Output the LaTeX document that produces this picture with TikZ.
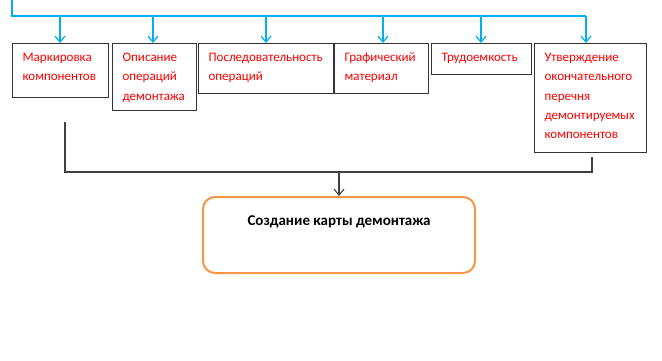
\documentclass[tikz,border=0pt]{standalone}
\usepackage{fontspec}
\setmainfont{Carlito}
\usetikzlibrary{arrows.meta}
\definecolor{mBlue}{HTML}{00B0F0}
\definecolor{mOrange}{HTML}{F79646}
\definecolor{mRed}{HTML}{FF0000}
\begin{document}
\begin{tikzpicture}[x=1pt, y=-1pt,
    comp/.style={draw=black!80, line width=1.2pt, anchor=north west, inner xsep=10pt, inner ysep=0pt,
      text height=18pt, align=left, text=mRed, font=\fontsize{13}{19.3}\selectfont},
    result/.style={draw=mOrange, line width=2pt, rounded corners=12pt, anchor=north west,
      minimum width=272pt, inner sep=0pt, text height=28pt, text depth=48pt,
      font=\bfseries\fontsize{15}{18}\selectfont},
    feed/.style={draw=mBlue, line width=1.2pt},
    link/.style={draw=black!75, line width=1.1pt},
    tip/.style={-{Straight Barb[length=6pt, width=10pt]}}]
  \useasboundingbox (0,0) rectangle (662,360);
  % components
  \foreach \n/\x/\w/\h/\txt in {c1/12/96/54/{Маркировка\\компонентов},
      c2/112/84/67/{Описание\\операций\\демонтажа},
      c3/198/135/50/{Последовательность\\операций},
      c4/334/94/50/{Графический\\материал},
      c5/431/100/31/{Трудоемкость},
      c6/534/112/109/{Утверждение\\окончательного\\перечня\\демонтируемых\\компонентов}}{
    \pgfmathsetmacro\tw{\w-20}
    \pgfmathsetmacro\td{\h-18}
    \node[comp, text width=\tw pt, text depth=\td pt] (\n) at (\x,43) {\txt};
  }
  % feed line
  \coordinate (top) at (12,0);
  \coordinate (busL) at (12,16);
  \coordinate (busR) at (586,16);
  \draw[feed] (top) -- (busL) -- (busR);
  \foreach \n/\x in {c1/60, c2/153, c3/266, c4/383, c5/481, c6/586}
    \draw[feed, tip] (\x,16) -- (\x,0 |- \n.north);
  % result
  \node[result] (map) at (202,196) {Создание карты демонтажа};
  \coordinate (lstart) at (65,122);
  \coordinate (rstart) at (592,157);
  \coordinate (join) at (339,172);
  \draw[link] (lstart) |- (join) -| (rstart);
  \draw[link, tip] (join) -- (join |- map.north);
\end{tikzpicture}
\end{document}
